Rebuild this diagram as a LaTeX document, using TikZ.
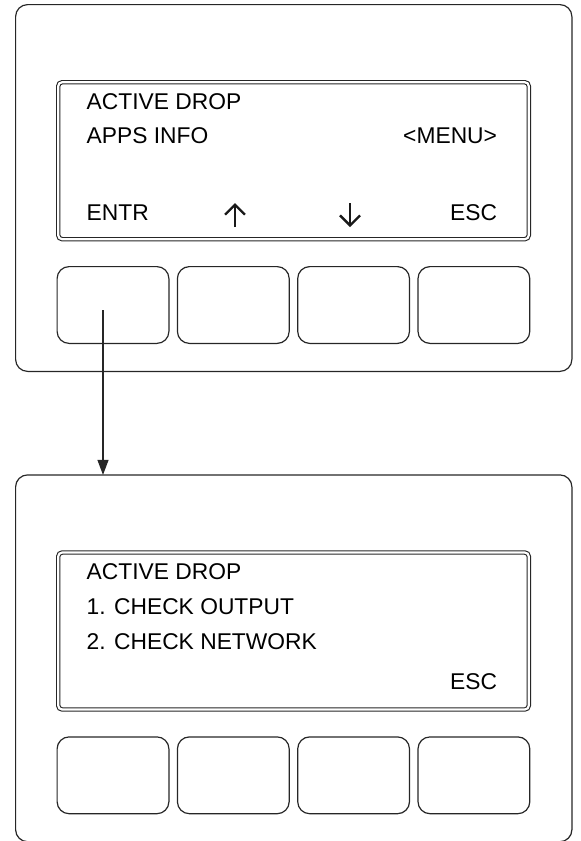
\documentclass[tikz,border=0pt]{standalone}
\usepackage{fontspec}
\setmainfont{Liberation Sans}
\usetikzlibrary{arrows.meta,positioning}

\begin{document}
\begin{tikzpicture}[
            x=1pt, y=1pt,
            node distance=8.5pt,
            panel/.style={rectangle, draw=black!85, rounded corners=12pt, line width=1.2pt, minimum width=556.3pt, minimum height=366.8pt, inner sep=0pt, outer sep=0pt},
            screen/.style={rectangle, draw=black!85, double, double distance=2.2pt, line width=1.1pt, rounded corners=4pt, minimum width=470.6pt, minimum height=157pt, inner sep=0pt, outer sep=0pt},
            softkey/.style={rectangle, draw=black!85, rounded corners=12pt, line width=1.2pt, minimum width=111.8pt, minimum height=76.8pt, inner sep=0pt, outer sep=0pt},
            lcd/.style={inner sep=0pt, outer sep=0pt, font=\fontsize{22.8}{27}\selectfont, text=black},
            keyarrow/.style={-{Straight Barb[length=10pt, width=20pt, line width=2.3pt]}, line width=2.3pt, draw=black!90},
            flow/.style={-{Triangle[length=15pt,width=11pt]}, line width=1.2pt, draw=black!85}
        ]
            \useasboundingbox (0,0) rectangle (581,-841);

            % --- PAINEL A (cima) ---
            \node[panel, anchor=north west] (panelA) at (15.6,-4.6) {};
            \node[screen, anchor=north west] (screenA) at ([xshift=42.6pt, yshift=-77.6pt]panelA.north west) {};

            % textos do visor A
            \node[lcd, anchor=base west] (titleA) at ([xshift=28.5pt, yshift=-26.8pt]screenA.north west) {ACTIVE DROP};
            \node[lcd, anchor=base west] (infoA) at ([xshift=28.5pt, yshift=-60.8pt]screenA.north west) {APPS INFO};
            \node[lcd, anchor=base east] (menuA) at ([xshift=-31.8pt, yshift=-60.8pt]screenA.north east) {<MENU>};
            \node[lcd, anchor=base west] (entrA) at ([xshift=28.5pt, yshift=19.2pt]screenA.south west) {ENTR};
            \node[lcd, anchor=base east] (escA) at ([xshift=-31.8pt, yshift=19.2pt]screenA.south east) {ESC};

            % setas cima / baixo
            \coordinate (upFoot) at (235,-227);
            \coordinate (upHead) at (235,-203);
            \coordinate (downFoot) at (350,-203);
            \coordinate (downHead) at (350,-227);
            \draw[keyarrow] (upFoot) -- (upHead);
            \draw[keyarrow] (downFoot) -- (downHead);

            % teclas A
            \node[softkey, anchor=north west] (keyA1) at ([xshift=-1.1pt, yshift=-27.4pt]screenA.south west) {};
            \node[softkey, right=of keyA1] (keyA2) {};
            \node[softkey, right=of keyA2] (keyA3) {};
            \node[softkey, right=of keyA3] (keyA4) {};

            % --- PAINEL B (baixo) ---
            \node[panel, anchor=north west] (panelB) at (15.6,-474.9) {};
            \node[screen, anchor=north west] (screenB) at ([xshift=42.6pt, yshift=-77.6pt]panelB.north west) {};

            % textos do visor B
            \node[lcd, anchor=base west] (titleB) at ([xshift=28.5pt, yshift=-26.8pt]screenB.north west) {ACTIVE DROP};
            \node[lcd, anchor=base west] (outputB) at ([xshift=28.5pt, yshift=-61.8pt]screenB.north west) {1. CHECK OUTPUT};
            \node[lcd, anchor=base west] (networkB) at ([xshift=28.5pt, yshift=-96.8pt]screenB.north west) {2. CHECK NETWORK};
            \node[lcd, anchor=base east] (escB) at ([xshift=-31.8pt, yshift=20.2pt]screenB.south east) {ESC};

            % teclas B
            \node[softkey, anchor=north west] (keyB1) at ([xshift=-1.1pt, yshift=-27.4pt]screenB.south west) {};
            \node[softkey, right=of keyB1] (keyB2) {};
            \node[softkey, right=of keyB2] (keyB3) {};
            \node[softkey, right=of keyB3] (keyB4) {};

            % ENTR leva ao painel B
            \coordinate (pressA) at ([xshift=-10pt, yshift=-5pt]keyA1.center);
            \draw[flow] (pressA) -- (pressA |- panelB.north);

        \end{tikzpicture}
\end{document}
